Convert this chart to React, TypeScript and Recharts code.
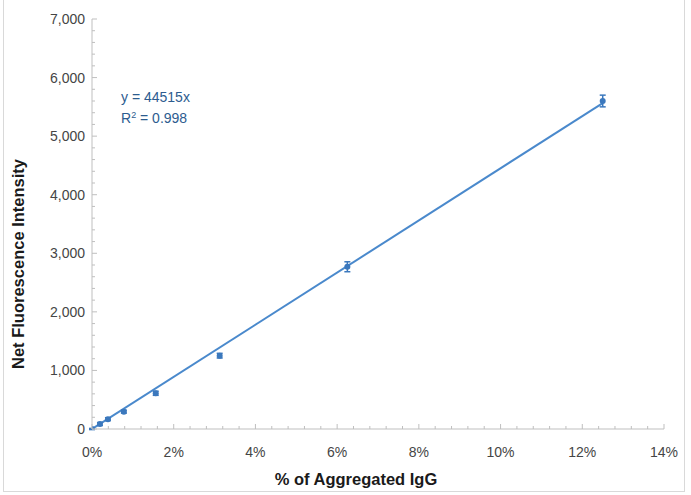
import React from 'react';
import { ComposedChart, Scatter, Line, XAxis, YAxis, ErrorBar } from 'recharts';

// measured data (fraction of aggregated IgG vs net fluorescence)
const aggregatedPct = [0, 0.00195, 0.0039, 0.0078, 0.0156, 0.03125, 0.0625, 0.125];
const fluorescence = [0, 85, 168, 296, 610, 1252, 2770, 5600];
const fluorescenceErr = [10, 25, 25, 25, 35, 40, 85, 100];

// linear fit through origin shown on the chart
const fitSlope = 44515;
const fitRange = [0, 0.125];

const xMajorTicks = [0, 0.02, 0.04, 0.06, 0.08, 0.1, 0.12, 0.14];
const yMajorTicks = [0, 1000, 2000, 3000, 4000, 5000, 6000, 7000];

const BLUE = '#4a89cc';
const MARKER = '#3b78bd';
const AXIS = '#bfbfbf';
const TICK_TEXT = '#454545';
const FONT = '"Liberation Sans", Arial, sans-serif';

const points = aggregatedPct.map((x, i) => ({ x, y: fluorescence[i], err: fluorescenceErr[i] }));
const trend = fitRange.map(x => ({ x, fit: fitSlope * x }));

// 4 minor ticks between each major one
const subdivide = (major: number[]) => {
  const out: number[] = [];
  for (let i = 0; i < major.length - 1; i++) {
    const step = (major[i + 1] - major[i]) / 5;
    for (let k = 0; k < 5; k++) out.push(major[i] + step * k);
  }
  out.push(major[major.length - 1]);
  return out;
};
const xTicks = subdivide(xMajorTicks);
const yTicks = subdivide(yMajorTicks);

const isMajor = (v: number, list: number[]) => list.some(m => Math.abs(m - v) < 1e-9);

const XTick = (props: any) => {
  const { x, y, payload } = props;
  const major = isMajor(payload.value, xMajorTicks);
  return (
    <g>
      <line x1={x} x2={x} y1={y} y2={y - (major ? 5 : 3)} stroke={AXIS} strokeWidth={1} />
      {major && (
        <text x={x} y={y + 28} textAnchor="middle" fill={TICK_TEXT} fontSize={14} fontFamily={FONT}>
          {`${Math.round(payload.value * 100)}%`}
        </text>
      )}
    </g>
  );
};

const YTick = (props: any) => {
  const { x, y, payload } = props;
  const major = isMajor(payload.value, yMajorTicks);
  return (
    <g>
      <line x1={x} x2={x + (major ? 5 : 3)} y1={y} y2={y} stroke={AXIS} strokeWidth={1} />
      {major && (
        <text x={x - 7} y={y + 5} textAnchor="end" fill={TICK_TEXT} fontSize={14} fontFamily={FONT}>
          {payload.value.toLocaleString('en-US')}
        </text>
      )}
    </g>
  );
};

const Marker = (props: any) => {
  const { cx, cy } = props;
  return <circle cx={cx} cy={cy} r={3} fill={MARKER} />;
};

export default function App() {
  return (
    <div style={{ position: 'absolute', left: 0, top: 0, width: 691, height: 495, background: '#fff', fontFamily: FONT }}>
      <div style={{ position: 'absolute', left: 3, top: -1, width: 682, height: 493, border: '1px solid #d9d9d9', boxSizing: 'border-box' }} />
      <ComposedChart width={691} height={495} margin={{ top: 19, right: 27, bottom: 0, left: 0 }}>
        <XAxis
          dataKey="x"
          type="number"
          domain={[0, 0.14]}
          ticks={xTicks}
          interval={0}
          tickLine={false}
          tickSize={0}
          tickMargin={0}
          tick={<XTick />}
          stroke={AXIS}
          height={66}
          allowDataOverflow
        />
        <YAxis
          type="number"
          domain={[0, 7000]}
          ticks={yTicks}
          interval={0}
          tickLine={false}
          tickSize={0}
          tickMargin={0}
          tick={<YTick />}
          stroke={AXIS}
          width={92}
          allowDataOverflow
        />
        <Line data={trend} dataKey="fit" stroke={BLUE} strokeWidth={2} dot={false} isAnimationActive={false} />
        <Scatter data={points} dataKey="y" shape={<Marker />} isAnimationActive={false}>
          <ErrorBar dataKey="err" direction="y" width={3} stroke={MARKER} strokeWidth={1.5} />
        </Scatter>
      </ComposedChart>
      <div style={{ position: 'absolute', left: 0, top: 0, pointerEvents: 'none' }}>
        <svg width={691} height={495}>
          <text
            transform="rotate(-90)"
            x={-264}
            y={24}
            textAnchor="middle"
            fontSize={16.5}
            fontWeight="bold"
            fill="#1a1a1a"
            fontFamily={FONT}
          >
            Net Fluorescence Intensity
          </text>
          <text x={356} y={485} textAnchor="middle" fontSize={16.5} fontWeight="bold" fill="#1a1a1a" fontFamily={FONT}>
            % of Aggregated IgG
          </text>
          <text x={121} y={102} fontSize={14} fill="#2d5c8f" fontFamily={FONT}>
            y = 44515x
          </text>
          <text x={121} y={123} fontSize={14} fill="#2d5c8f" fontFamily={FONT}>
            R<tspan dy={-5} fontSize={9}>2</tspan>
            <tspan dy={5}> = 0.998</tspan>
          </text>
        </svg>
      </div>
    </div>
  );
}
